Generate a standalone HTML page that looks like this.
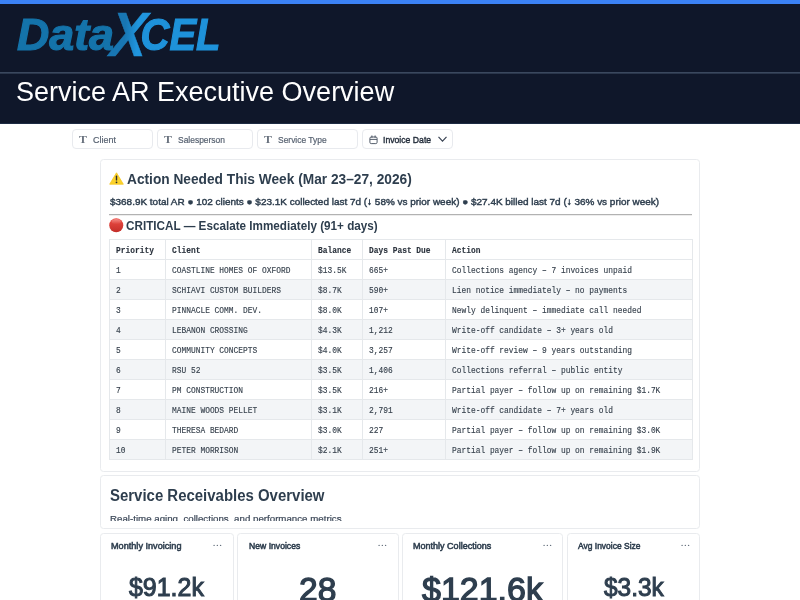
<!DOCTYPE html>
<html><head><meta charset="utf-8">
<style>
*{box-sizing:border-box;margin:0;padding:0}
html,body{width:800px;height:600px;overflow:hidden;background:#fff}
body{font-family:"Liberation Sans",sans-serif;color:#2c3e50;position:relative}
.topbar{position:absolute;left:0;top:0;width:800px;height:4px;background:#3b82f6}
.hdr{position:absolute;left:0;top:4px;width:800px;height:120px;background:#0f172a}
.hline{position:absolute;left:0;top:72px;width:800px;height:2px;background:linear-gradient(#3a485e 50%,#2a364b 50%)}
.title{position:absolute;left:16px;top:76px;color:#fff;font-size:27px;line-height:32px;white-space:nowrap}

.t{position:absolute;white-space:nowrap;display:block;transform-origin:0 50%}
.fb{position:absolute;top:129px;height:20px;border:1px solid #e8eaee;border-radius:4px;background:#fff}
.ft{font-size:9.33px;line-height:12px;color:#566170;top:133.7px;-webkit-text-stroke:0.2px #566170}
.ti{position:absolute;top:133.6px;font-family:"Liberation Serif",serif;font-weight:bold;font-size:10.6px;line-height:12px;color:#68717d;transform:scaleX(1.12);transform-origin:0 50%}
.card{position:absolute;border:1px solid #e9ebee;border-radius:3.5px;background:#fff;overflow:hidden}
.h1{font-size:14px;line-height:16px;font-weight:bold;color:#2e3e4e}
.sub{font-size:9.7px;line-height:12px;color:#2e3e4e;-webkit-text-stroke:0.42px #2e3e4e}
.h2{font-size:12.3px;line-height:14px;font-weight:bold;color:#2e3e4e}
.h3{font-size:16px;line-height:18px;font-weight:bold;color:#2e3e4e}
.desc{font-size:9.6px;line-height:12px;color:#3b4757;-webkit-text-stroke:0.2px #3b4757}
.kt{font-size:9.33px;line-height:12px;color:#2e3e4e;-webkit-text-stroke:0.55px #2e3e4e;top:540.2px}
.kv{color:#2e3e4e;-webkit-text-stroke:1.05px #2e3e4e}
table{position:absolute;left:109px;top:239px;border-collapse:collapse;font-family:"Liberation Mono",monospace;font-size:7.9px;color:#36404c;-webkit-text-stroke:0.12px #36404c;table-layout:fixed;width:583px}
td,th{border:1px solid #e5e8eb;height:20px;padding:0 0 0 6px;text-align:left;white-space:nowrap;line-height:19px;overflow:hidden}
th{font-weight:bold;color:#2a313b}
td span,th span{display:inline-block;position:relative;top:0.8px;transform:scaleY(1.2);transform-origin:0 60%}
tr:nth-child(odd) td{background:#f3f5f7}
</style></head><body>
<div class="topbar"></div>
<div class="hdr"></div>
<div class="hline"></div>
<div style="position:absolute;left:0;top:123px;width:800px;height:1px;background:#1d2b43"></div>
<svg class="logo" width="240" height="68" viewBox="0 0 240 68" style="position:absolute;left:0;top:4px;overflow:visible" font-family="Liberation Sans, sans-serif" font-weight="bold" font-style="italic">
<defs><linearGradient id="xg" gradientUnits="userSpaceOnUse" x1="16" y1="0" x2="31" y2="0"><stop offset="0" stop-color="#1876b2"/><stop offset="1" stop-color="#2095dd"/></linearGradient></defs>
<text x="17" y="45.6" font-size="44.5" fill="#1473aa" stroke="#1473aa" stroke-width="1.2" textLength="97" lengthAdjust="spacingAndGlyphs">Data</text>
<text transform="matrix(0.865 0 -0.06 1 109.5 52.4)" x="0" y="0" font-size="62.6" fill="url(#xg)" stroke="url(#xg)" stroke-width="0.5">X</text>
<text x="140.5" y="46.2" font-size="44.5" fill="#1e92da" stroke="#1e92da" stroke-width="1.2" textLength="80" lengthAdjust="spacingAndGlyphs">CEL</text>
</svg>
<div class="title">Service AR Executive Overview</div>

<div class="fb" style="left:72px;width:81px"></div>
<div class="fb" style="left:157px;width:96px"></div>
<div class="fb" style="left:257px;width:101px"></div>
<div class="fb" style="left:362px;width:91px"></div>
<span class="ti" style="left:79.2px">T</span><span class="t ft" id="f1" style="left:93.2px;transform:scaleX(0.9640)">Client</span>
<span class="ti" style="left:164.2px">T</span><span class="t ft" id="f2" style="left:178px;transform:scaleX(0.9063)">Salesperson</span>
<span class="ti" style="left:264.2px">T</span><span class="t ft" id="f3" style="left:278.3px;transform:scaleX(0.9058)">Service Type</span>
<svg style="position:absolute;left:369px;top:134.6px" width="9" height="10" viewBox="0 0 9 10" fill="none" stroke="#4b5563" stroke-width="0.95"><rect x="0.9" y="2" width="7.2" height="6.6" rx="1.3"/><path d="M0.9 4.4h7.2"/><path d="M2.9 0.6v2.2M6.1 0.6v2.2" stroke-width="1.05"/></svg>
<span class="t ft" id="f4" style="left:383.4px;top:133.7px;font-size:9.8px;color:#1f2937;-webkit-text-stroke:0.4px #1f2937;transform:scaleX(0.8831)">Invoice Date</span>
<svg style="position:absolute;left:438px;top:136px" width="10" height="7" viewBox="0 0 10 7" fill="none" stroke="#374151" stroke-width="1.15"><path d="M0.5 0.9L4.5 5.1l4-4.2"/></svg>

<div class="card" style="left:100px;top:159px;width:600px;height:313px"></div>
<svg style="position:absolute;left:109px;top:172px" width="15" height="13" viewBox="0 0 15 13"><path d="M7.5 0.8L14.3 12.2H0.7Z" fill="#fbd22b" stroke="#f6c71c" stroke-width="0.8" stroke-linejoin="round"/><rect x="6.8" y="3.6" width="1.4" height="5" rx="0.6" fill="#2b2b2b"/><circle cx="7.5" cy="10.3" r="0.9" fill="#2b2b2b"/></svg>
<span class="t h1" id="h1" style="left:127px;top:170.7px;transform:scaleX(0.9794)">Action Needed This Week (Mar 23–27, 2026)</span>
<span class="t sub" id="sub" style="left:109.5px;top:195.6px;transform:scaleX(1.0273)">$368.9K total AR ● 102 clients ● $23.1K collected last 7d (↓ 58% vs prior week) ● $27.4K billed last 7d (↓ 36% vs prior week)</span>
<div style="position:absolute;left:109px;top:214px;width:583px;height:1px;background:#b2b2b2"></div>
<div style="position:absolute;left:109px;top:215px;width:583px;height:1px;background:#ededed"></div>
<svg style="position:absolute;left:109px;top:218px" width="15" height="15" viewBox="0 0 15 15"><defs><linearGradient id="rg" x1="0" y1="0" x2="0" y2="1"><stop offset="0" stop-color="#ee4d45"/><stop offset="1" stop-color="#c32e29"/></linearGradient><linearGradient id="rh" x1="0" y1="0" x2="0" y2="1"><stop offset="0" stop-color="#fff" stop-opacity="0.35"/><stop offset="1" stop-color="#fff" stop-opacity="0"/></linearGradient></defs><circle cx="7.25" cy="7.25" r="7" fill="url(#rg)"/><ellipse cx="7.25" cy="3.6" rx="4.6" ry="2.6" fill="url(#rh)"/></svg>
<span class="t h2" id="h2" style="left:126px;top:219.3px;transform:scaleX(0.9514)">CRITICAL — Escalate Immediately (91+ days)</span>
<table>
<colgroup><col style="width:56px"><col style="width:146px"><col style="width:51px"><col style="width:83px"><col style="width:247px"></colgroup>
<tr><th><span>Priority</span></th><th><span>Client</span></th><th><span>Balance</span></th><th><span>Days Past Due</span></th><th><span>Action</span></th></tr>
<tr><td><span>1</span></td><td><span>COASTLINE HOMES OF OXFORD</span></td><td><span>$13.5K</span></td><td><span>665+</span></td><td><span>Collections agency – 7 invoices unpaid</span></td></tr>
<tr><td><span>2</span></td><td><span>SCHIAVI CUSTOM BUILDERS</span></td><td><span>$8.7K</span></td><td><span>590+</span></td><td><span>Lien notice immediately – no payments</span></td></tr>
<tr><td><span>3</span></td><td><span>PINNACLE COMM. DEV.</span></td><td><span>$8.0K</span></td><td><span>107+</span></td><td><span>Newly delinquent – immediate call needed</span></td></tr>
<tr><td><span>4</span></td><td><span>LEBANON CROSSING</span></td><td><span>$4.3K</span></td><td><span>1,212</span></td><td><span>Write-off candidate – 3+ years old</span></td></tr>
<tr><td><span>5</span></td><td><span>COMMUNITY CONCEPTS</span></td><td><span>$4.0K</span></td><td><span>3,257</span></td><td><span>Write-off review – 9 years outstanding</span></td></tr>
<tr><td><span>6</span></td><td><span>RSU 52</span></td><td><span>$3.5K</span></td><td><span>1,406</span></td><td><span>Collections referral – public entity</span></td></tr>
<tr><td><span>7</span></td><td><span>PM CONSTRUCTION</span></td><td><span>$3.5K</span></td><td><span>216+</span></td><td><span>Partial payer – follow up on remaining $1.7K</span></td></tr>
<tr><td><span>8</span></td><td><span>MAINE WOODS PELLET</span></td><td><span>$3.1K</span></td><td><span>2,791</span></td><td><span>Write-off candidate – 7+ years old</span></td></tr>
<tr><td><span>9</span></td><td><span>THERESA BEDARD</span></td><td><span>$3.0K</span></td><td><span>227</span></td><td><span>Partial payer – follow up on remaining $3.0K</span></td></tr>
<tr><td><span>10</span></td><td><span>PETER MORRISON</span></td><td><span>$2.1K</span></td><td><span>251+</span></td><td><span>Partial payer – follow up on remaining $1.9K</span></td></tr>
</table>

<div class="card" style="left:100px;top:475px;width:600px;height:54px"></div>
<span class="t h3" id="h3" style="left:109.5px;top:486.6px;transform:scaleX(0.9346)">Service Receivables Overview</span>
<div style="position:absolute;left:101px;top:505px;width:598px;height:16.3px;overflow:hidden"><span class="t desc" id="desc" style="left:8.5px;top:7.5px;transform:scaleX(1.0120)">Real-time aging, collections, and performance metrics</span></div>

<div class="card" style="left:100px;top:533px;width:134px;height:80px"></div>
<div class="card" style="left:237px;top:533px;width:162px;height:80px"></div>
<div class="card" style="left:402px;top:533px;width:161px;height:80px"></div>
<div class="card" style="left:567px;top:533px;width:133px;height:80px"></div>
<span class="t kt" id="k1" style="left:110.7px;transform:scaleX(0.9781)">Monthly Invoicing</span>
<span class="t kt" id="k2" style="left:248.7px;transform:scaleX(0.9237)">New Invoices</span>
<span class="t kt" id="k3" style="left:413px;transform:scaleX(0.9674)">Monthly Collections</span>
<span class="t kt" id="k4" style="left:577.5px;transform:scaleX(0.9085)">Avg Invoice Size</span>
<svg style="position:absolute;left:213.3px;top:543px" width="10" height="5" viewBox="0 0 10 5"><circle cx="1.1" cy="2.4" r="0.7" fill="#66717e"/><circle cx="4.35" cy="2.4" r="0.7" fill="#66717e"/><circle cx="7.6" cy="2.4" r="0.7" fill="#66717e"/></svg>
<svg style="position:absolute;left:378.3px;top:543px" width="10" height="5" viewBox="0 0 10 5"><circle cx="1.1" cy="2.4" r="0.7" fill="#66717e"/><circle cx="4.35" cy="2.4" r="0.7" fill="#66717e"/><circle cx="7.6" cy="2.4" r="0.7" fill="#66717e"/></svg>
<svg style="position:absolute;left:543.0px;top:543px" width="10" height="5" viewBox="0 0 10 5"><circle cx="1.1" cy="2.4" r="0.7" fill="#66717e"/><circle cx="4.35" cy="2.4" r="0.7" fill="#66717e"/><circle cx="7.6" cy="2.4" r="0.7" fill="#66717e"/></svg>
<svg style="position:absolute;left:680.7px;top:543px" width="10" height="5" viewBox="0 0 10 5"><circle cx="1.1" cy="2.4" r="0.7" fill="#66717e"/><circle cx="4.35" cy="2.4" r="0.7" fill="#66717e"/><circle cx="7.6" cy="2.4" r="0.7" fill="#66717e"/></svg>
<span class="t kv" id="v1" style="left:128.7px;top:571.5px;font-size:26.2px;line-height:30px;transform:scaleX(0.9524)">$91.2k</span>
<span class="t kv" id="v2" style="left:299.2px;top:569.6px;font-size:34px;line-height:38px;-webkit-text-stroke:1.3px #2e3e4e;transform:scaleX(0.9887)">28</span>
<span class="t kv" id="v3" style="left:421.7px;top:569.6px;font-size:34px;line-height:38px;-webkit-text-stroke:1.3px #2e3e4e;transform:scaleX(0.9992)">$121.6k</span>
<span class="t kv" id="v4" style="left:603.7px;top:571.5px;font-size:26.2px;line-height:30px;transform:scaleX(0.9335)">$3.3k</span>
</body></html>
